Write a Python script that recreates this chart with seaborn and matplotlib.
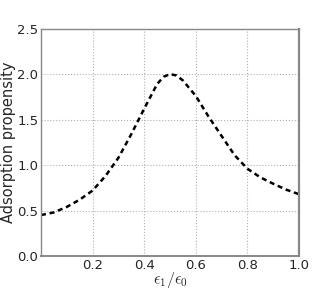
import matplotlib
matplotlib.use("Agg")
import matplotlib.pyplot as plt
import seaborn as sns
import pandas as pd

# values
ratio = [0.00, 0.05, 0.10, 0.15, 0.20, 0.25, 0.30, 0.35, 0.40, 0.45, 0.475,
         0.50, 0.525, 0.55, 0.60, 0.65, 0.70, 0.75, 0.80, 0.85, 0.90, 0.95, 1.00]
propensity = [0.45, 0.48, 0.54, 0.62, 0.72, 0.88, 1.08, 1.34, 1.62, 1.89, 1.97,
              2.00, 1.985, 1.93, 1.76, 1.53, 1.32, 1.11, 0.96, 0.865, 0.795, 0.73, 0.68]

xticks = [0.2, 0.4, 0.6, 0.8, 1.0]
yticks = [0.0, 0.5, 1.0, 1.5, 2.0, 2.5]

df = pd.DataFrame({"ratio": ratio, "propensity": propensity})

sns.set_style("white")
plt.rcParams["font.family"] = ["DejaVu Sans"]
plt.rcParams["mathtext.fontset"] = "cm"

fig, ax = plt.subplots(figsize=(3.32, 2.89), dpi=100)
fig.subplots_adjust(left=0.1235, right=0.9006, top=0.901, bottom=0.114)

sns.lineplot(data=df, x="ratio", y="propensity", ax=ax, color="black",
             linestyle=(0, (2, 1.5)), linewidth=1.8)

ax.set_xlim(0, 1)
ax.set_ylim(0, 2.5)
ax.set_xticks(xticks)
ax.set_yticks(yticks)
ax.set_xticklabels([f"{t:.1f}" for t in xticks], fontsize=9.5)
ax.set_yticklabels([f"{t:.1f}" for t in yticks], fontsize=9.5)
ax.tick_params(length=0, pad=2)
ax.grid(True, color="#b0b0b0", linestyle=":", linewidth=0.8)

for s in ax.spines.values():
    s.set_color("#888888")
    s.set_linewidth(1.0)
ax.spines["right"].set_linewidth(1.6)
ax.spines["bottom"].set_linewidth(1.4)

ax.set_xlabel(r"$\epsilon_1/\epsilon_0$", fontsize=11.5, labelpad=-1)
ax.set_ylabel("Adsorption propensity", fontsize=10.5, labelpad=1)

fig.savefig("out.png", dpi=100)
